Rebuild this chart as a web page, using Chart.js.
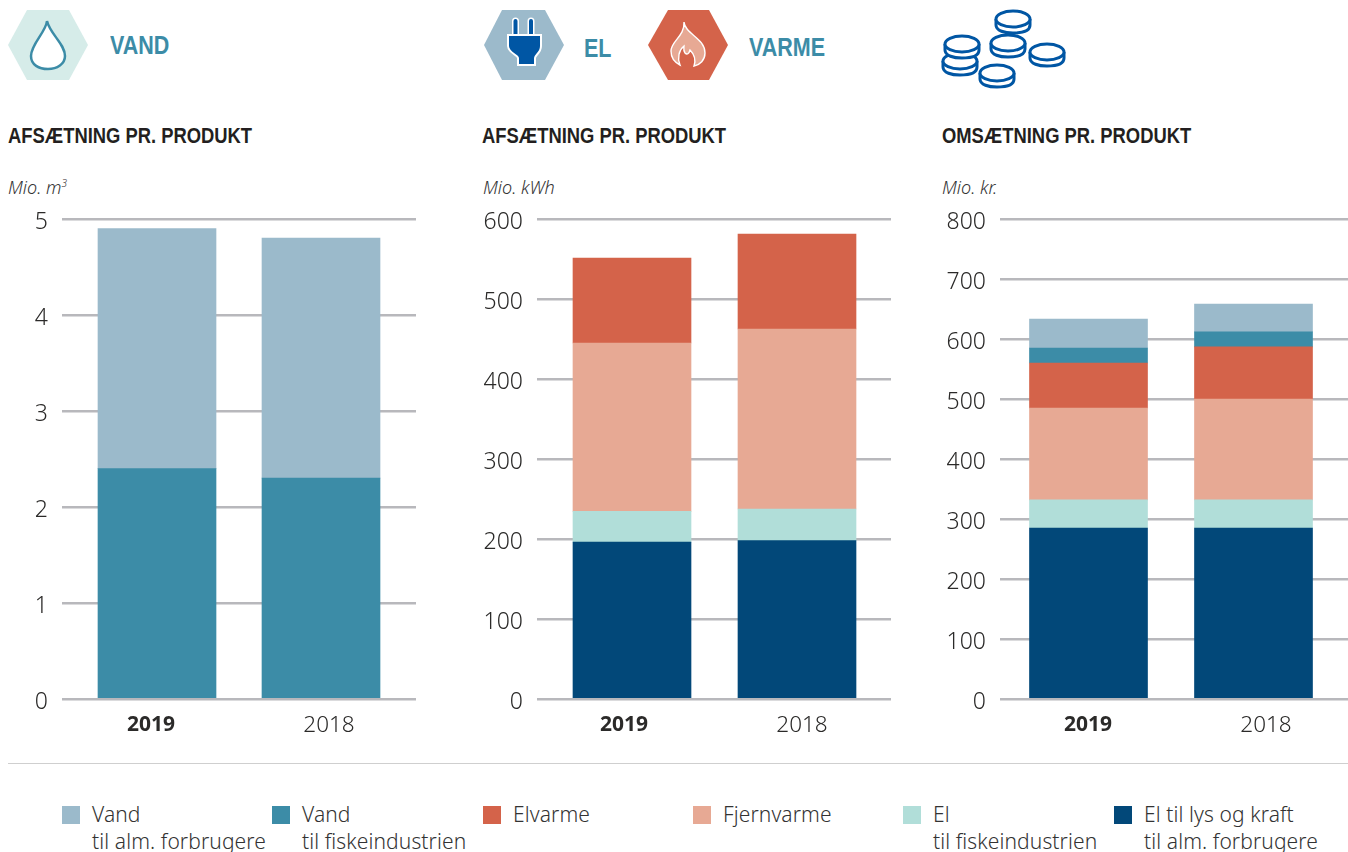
<!DOCTYPE html>
<html lang="da">
<head>
<meta charset="utf-8">
<title>Afsætning og omsætning pr. produkt</title>
<script src="https://cdn.jsdelivr.net/npm/chart.js@4"></script>
<style>
html, body { margin: 0; background: #fff; }
body { position: relative; width: 1348px; height: 852px; overflow: hidden; font-family: "Noto Sans", sans-serif; color: #2b2a29; }
canvas { position: absolute; top: 200px; }
.t { position: absolute; white-space: nowrap; transform-origin: 0 50%; }
.head { font-family: "Liberation Sans", sans-serif; font-weight: 700; font-size: 25px; line-height: 30px; color: #3c8ca7; transform: scaleX(0.86); }
.title { font-family: "Liberation Sans", sans-serif; font-weight: 700; font-size: 21.5px; line-height: 24px; color: #231f20; top: 124px; transform: scaleX(0.855); }
.unit { font-style: italic; font-weight: 300; font-size: 18px; line-height: 20px; top: 177px; color: #333; }
.unit sup { font-size: 10px; line-height: 0; }
.rule { position: absolute; left: 8px; top: 763px; width: 1340px; height: 1px; background: #cfcfcf; }
.swatch { position: absolute; top: 806px; width: 18px; height: 18px; }
.leg { position: absolute; top: 801px; font-size: 21px; line-height: 27px; letter-spacing: 0.1px; font-weight: 300; white-space: pre; color: #333; }
svg { position: absolute; left: 0; top: 0; }
</style>
</head>
<body>
<svg width="1348" height="100" viewBox="0 0 1348 100">
  <defs>
    <g id="coin" fill="#fff" stroke="#0056a4" stroke-width="3">
      <path d="M-17 -3 V3 C-17 9 -8 11 0 11 C9 11 17 9 17 3 V-3"/>
      <ellipse cx="0" cy="-3" rx="17" ry="8"/>
    </g>
  </defs>
  <polygon points="8,45 27,10 69,10 88,45 69,80 27,80" fill="#d6ece9"/>
  <path d="M47 21 C46 32 31 44 31 56 C31 65 39 69 48 69 C57 69 65 64 65 56 C65 44 50 34 47 21 Z" fill="#fff" stroke="#3c8ca7" stroke-width="2.5"/>

  <polygon points="484,45 502,10 545,10 564,45 545,80 502,80" fill="#9cbacb"/>
  <path d="M515.5 21 V36 M531 21 V36" stroke="#fff" stroke-width="7" stroke-linecap="round"/>
  <path d="M515.5 21 V36 M531 21 V36" stroke="#0056a4" stroke-width="4" stroke-linecap="round"/>
  <path d="M508 35 H541 V46 C541 53 535 55 535 58 V65 H518 V58 C518 55 508 53 508 46 Z" fill="#0056a4" stroke="#fff" stroke-width="2"/>

  <polygon points="648,45 668,10 709,10 728,45 709,80 668,80" fill="#d4634a"/>
  <path d="M684 22 C685 34 705 38 705 53 C705 60 700 65 694 66 C696 60 694 54 690 50 C689 54 687 55 685 53 C683 50 684 48 684 46 C679 50 677 58 680 65 C674 62 671 57 671 51 C671 41 685 36 684 22 Z" fill="#e7a994" stroke="#fff" stroke-width="1.4"/>

  <use href="#coin" x="1013" y="22"/>
  <use href="#coin" x="960" y="64"/>
  <use href="#coin" x="962" y="47"/>
  <use href="#coin" x="1008" y="46"/>
  <use href="#coin" x="1047" y="55"/>
  <use href="#coin" x="997" y="76"/>
</svg>

<div class="t head" style="left:110px;top:30px">VAND</div>
<div class="t head" style="left:584px;top:33px">EL</div>
<div class="t head" style="left:749px;top:32px">VARME</div>

<div class="t title" style="left:8px">AFSÆTNING PR. PRODUKT</div>
<div class="t title" style="left:482px">AFSÆTNING PR. PRODUKT</div>
<div class="t title" style="left:942px">OMSÆTNING PR. PRODUKT</div>

<div class="t unit" style="left:8px">Mio. m<sup>3</sup></div>
<div class="t unit" style="left:483px">Mio. kWh</div>
<div class="t unit" style="left:942px">Mio. kr.</div>

<canvas id="vand" width="416" height="550" style="left:0"></canvas>
<canvas id="elvarme" width="421" height="550" style="left:470px"></canvas>
<canvas id="omsaetning" width="418" height="550" style="left:930px"></canvas>

<div class="rule"></div>
<div id="legend"></div>

<script>
const years = ["2019", "2018"];

const legendLabels = ["Vand\ntil alm. forbrugere", "Vand\ntil fiskeindustrien", "Elvarme", "Fjernvarme", "El\ntil fiskeindustrien", "El til lys og kraft\ntil alm. forbrugere"];
const legendColors = ["#9bbacb", "#3c8ca7", "#d4634a", "#e7a994", "#b1ded9", "#024879"];
const legendX = [62, 272, 483, 693, 903, 1114];

// stacked from the bottom up
const vandFisk = [2.4, 2.3];
const vandAlm = [2.5, 2.5];

const afsEl = [196, 198];
const afsElFisk = [38.5, 39.5];
const afsFjern = [210.5, 225];
const afsElvarme = [106, 118.5];

const omsEl = [285, 285];
const omsElFisk = [47, 47];
const omsFjern = [153, 168];
const omsElvarme = [75, 87];
const omsVandFisk = [25, 25];
const omsVandAlm = [48, 46];

const blue = "#9bbacb", teal = "#3c8ca7", red = "#d4634a", salmon = "#e7a994", mint = "#b1ded9", navy = "#024879";

function makeSet(values, color) {
  return {
    data: values.map((v, i) => ({ x: i, y: v })),
    backgroundColor: color,
    stack: "s",
    barThickness: 118
  };
}

// the y labels sit a little under their grid lines in the original
const lowerYLabels = {
  id: "lowerYLabels",
  beforeDraw(chart) {
    chart.scales.y.getLabelItems().forEach(item => {
      if (!item.lowered) {
        item.options.translation[1] += 3;
        item.lowered = true;
      }
    });
  }
};

function makeChart(id, sets, yMax, yStep, axisWidth, xMin, xMax, labelAt) {
  new Chart(document.getElementById(id), {
    type: "bar",
    data: { datasets: sets },
    plugins: [lowerYLabels],
    options: {
      responsive: false,
      animation: false,
      layout: { padding: { top: 19 } },
      plugins: { legend: { display: false }, tooltip: { enabled: false } },
      scales: {
        x: {
          type: "linear",
          offset: false,
          min: xMin,
          max: xMax,
          // year labels are not centred under the bars in the original
          afterBuildTicks: s => { s.ticks = labelAt.map(v => ({ value: v })); },
          afterFit: s => { s.height = 51; },
          grid: { display: false },
          border: { display: false },
          ticks: {
            autoSkip: false,
            maxRotation: 0,
            padding: 5,
            color: "#2b2a29",
            callback: (v, i) => years[i],
            font: ctx => ctx.index === 0
              ? { family: "Noto Sans", size: 21, weight: "700" }
              : { family: "Noto Sans", size: 22.5, weight: "300" }
          }
        },
        y: {
          stacked: true,
          min: 0,
          max: yMax,
          afterFit: s => { s.width = axisWidth; s.paddingTop = 0; s.paddingBottom = 0; },
          grid: { color: "#b8b8bc", lineWidth: 2.5, drawTicks: false },
          border: { display: false },
          ticks: {
            stepSize: yStep,
            padding: 14,
            color: "#2b2a29",
            font: { family: "Noto Sans", size: 23, weight: "300" }
          }
        }
      }
    }
  });
}

makeChart("vand", [makeSet(vandFisk, teal), makeSet(vandAlm, blue)], 5, 1, 62, -95 / 164, 259 / 164, [-6 / 164, 172 / 164]);
makeChart("elvarme", [makeSet(afsEl, navy), makeSet(afsElFisk, mint), makeSet(afsFjern, salmon), makeSet(afsElvarme, red)], 600, 100, 67, -95 / 165, 259 / 165, [-8 / 165, 170 / 165]);
makeChart("omsaetning", [makeSet(omsEl, navy), makeSet(omsElFisk, mint), makeSet(omsFjern, salmon), makeSet(omsElvarme, red), makeSet(omsVandFisk, teal), makeSet(omsVandAlm, blue)], 800, 100, 70, -88.5 / 165, 259.5 / 165, [-0.5 / 165, 177.5 / 165]);

const legend = document.getElementById("legend");
legendLabels.forEach((label, i) => {
  const sw = document.createElement("div");
  sw.className = "swatch";
  sw.style.left = legendX[i] + "px";
  sw.style.background = legendColors[i];
  legend.appendChild(sw);
  const txt = document.createElement("div");
  txt.className = "leg";
  txt.style.left = (legendX[i] + 30) + "px";
  txt.textContent = label;
  legend.appendChild(txt);
});
</script>
</body>
</html>
